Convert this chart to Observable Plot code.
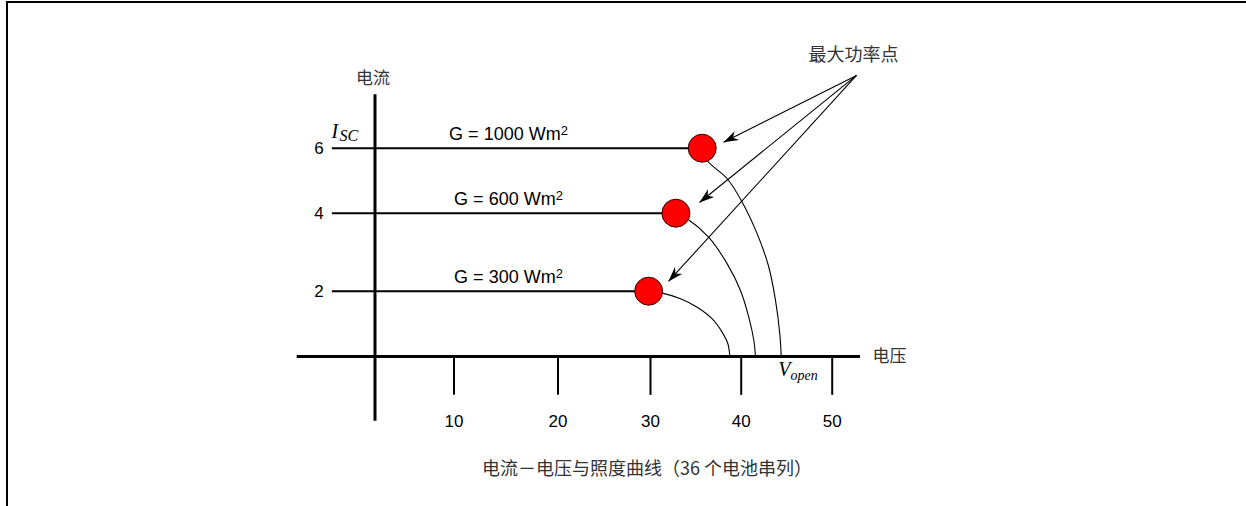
<!DOCTYPE html>
<html><head><meta charset="utf-8">
<script src="https://cdn.jsdelivr.net/npm/d3@7"></script>
<script src="https://cdn.jsdelivr.net/npm/@observablehq/plot@0.6"></script>
<style>
html,body{margin:0;padding:0;background:#fff;}
body{width:1246px;height:506px;position:relative;overflow:hidden;}
#chart{position:absolute;left:0;top:0;}
#frame{position:absolute;left:6px;top:1px;right:0;bottom:0;border-top:2px solid #000;border-left:2px solid #000;pointer-events:none;}
#caption{position:absolute;top:456px;left:647px;transform:translateX(-50%);font-family:"Noto Sans CJK SC";font-size:18px;color:#333;white-space:nowrap;line-height:22px;}
</style></head><body>
<div id="chart"></div>
<div id="frame"></div>
<div id="caption">电流－电压与照度曲线（36 个电池串列）</div>
<script>
// ---- data ----
const xTicks = [10, 20, 30, 40, 50];
const yTicks = [2, 4, 6];
const irradiance = [1000, 600, 300];
const iscCurrent = [6, 4, 2];
const mppVoltage = [35.7, 32.8, 29.8];
const seriesLabels = ["G = 1000 Wm²", "G = 600 Wm²", "G = 300 Wm²"];
const curveV1000 = [35.7, 36.25, 38.46, 40.11, 41.76, 43.03, 43.77, 44.24, 44.4];
const curveI1000 = [6, 5.62, 5.06, 4.34, 3.47, 2.62, 1.72, 0.70, 0];
const curveV600 = [32.8, 34.16, 36.43, 38.46, 39.92, 40.84, 41.39, 41.57];
const curveI600 = [4, 3.84, 3.38, 2.70, 2.02, 1.20, 0.49, 0];
const curveV300 = [29.8, 31.29, 33.31, 35.15, 36.81, 37.91, 38.53, 38.75];
const curveI300 = [2, 1.94, 1.77, 1.51, 1.15, 0.74, 0.39, 0];
const noteV = 52.67, noteI = 8.24;          // "最大功率点" arrow origin
const arrowTipV = [38.05, 35.40, 31.98];
const arrowTipI = [6.18, 4.33, 2.25];

// ---- scale configuration (hand-drawn, uneven axis) ----
const xDomain = [0, 10, 20, 30, 40, 50];
const xRange = [374.5, 453.5, 557.5, 650, 740.7, 831.7];
const yDomain = [0, 2, 4, 6];
const yRange = [356, 290.7, 212.7, 147.7];

const curveRows = [];
[[curveV1000, curveI1000], [curveV600, curveI600], [curveV300, curveI300]].forEach(([vs, is], k) => {
  vs.forEach((v, j) => curveRows.push({g: irradiance[k], v, i: is[j]}));
});

let sx, sy;
if (Plot.scale) {
  const a = Plot.scale({x: {type: "linear", domain: xDomain, range: xRange}});
  const b = Plot.scale({y: {type: "linear", domain: yDomain, range: yRange}});
  sx = v => a.apply(v); sy = v => b.apply(v);
} else {
  const a = d3.scaleLinear(xDomain, xRange), b = d3.scaleLinear(yDomain, yRange);
  sx = a; sy = b;
}
const arrowAngles = arrowTipV.map((v, k) => {
  const dx = sx(v) - sx(noteV), dy = sy(arrowTipI[k]) - sy(noteI);
  return Math.atan2(dx, -dy) * 180 / Math.PI;
});
const dart = {draw(ctx, l, r) { ctx.moveTo(0, -l); ctx.lineTo(-r, 0); ctx.lineTo(0, -l * 0.3); ctx.lineTo(r, 0); ctx.closePath(); }};

const CJK = "Noto Sans CJK SC";
const SERIF = "Liberation Serif";

const chart = Plot.plot({
  width: 1246,
  height: 440,
  marginLeft: 296.7,
  marginRight: 386,
  marginTop: 94.3,
  marginBottom: 19.3,
  style: {fontFamily: "Liberation Sans", fontSize: "17px", background: "transparent", color: "#000"},
  x: {type: "linear", domain: xDomain, range: xRange, label: null},
  y: {type: "linear", domain: yDomain, range: yRange, label: null},
  marks: [
    Plot.ruleY([0], {strokeWidth: 3}),
    Plot.ruleX([0], {strokeWidth: 3}),
    Plot.ruleX(xTicks, {x: d => d, y1: 0, y2: -1.19, strokeWidth: 2}),
    Plot.axisX(xTicks, {tickSize: 0, tickPadding: 0, dy: -6, fontSize: 17, label: null}),
    Plot.axisY(yTicks, {tickSize: 0, tickPadding: 0, dx: 26.6, fontSize: 17, label: null}),
    Plot.ruleY(iscCurrent, {y: d => d, x1: -5.4, x2: (d, i) => mppVoltage[i], strokeWidth: 2}),
    Plot.line(curveRows, {x: "v", y: "i", z: "g", curve: "catmull-rom", strokeWidth: 1.1, stroke: "#000"}),
    Plot.text(seriesLabels, {x: 15.24, y: (d, i) => iscCurrent[i], dy: -14, fontSize: 18, text: d => d, className: "glabel"}),
    Plot.link(arrowTipV, {x1: noteV, y1: noteI, x2: d => d, y2: (d, i) => arrowTipI[i], strokeWidth: 1.1, stroke: "#000"}),
    Plot.vector(arrowTipV, {x: d => d, y: (d, i) => arrowTipI[i], rotate: (d, i) => arrowAngles[i], length: 15, r: 5, anchor: "end", shape: dart, fill: "#000", stroke: "none"}),
    Plot.dot(mppVoltage, {x: d => d, y: (d, i) => iscCurrent[i], r: 14, fill: "#ff0000", stroke: "#330000", strokeWidth: 1}),
    Plot.text(["电流"], {x: 0, frameAnchor: "top", dx: -2, dy: -23, fontFamily: CJK, fontSize: 17, fill: "#333", text: d => d}),
    Plot.text(["电压"], {y: 0, frameAnchor: "right", dx: 12, textAnchor: "start", fontFamily: CJK, fontSize: 17, fill: "#333", text: d => d}),
    Plot.text(["最大功率点"], {x: noteV, y: noteI, dx: -3, dy: -20, fontFamily: CJK, fontSize: 18, fill: "#333", text: d => d}),
    Plot.text(["I"], {x: 0, y: iscCurrent[0], dx: -43.5, dy: -10.4, textAnchor: "start", lineAnchor: "bottom", fontFamily: SERIF, fontStyle: "italic", fontSize: 20, text: d => d}),
    Plot.text(["SC"], {x: 0, y: iscCurrent[0], dx: -35.5, dy: -7, textAnchor: "start", lineAnchor: "bottom", fontFamily: SERIF, fontStyle: "italic", fontSize: 16, text: d => d}),
    Plot.text(["V"], {x: curveV1000[curveV1000.length - 1], y: 0, dx: -3, dy: 19, textAnchor: "start", lineAnchor: "bottom", fontFamily: SERIF, fontStyle: "italic", fontSize: 20, text: d => d}),
    Plot.text(["open"], {x: curveV1000[curveV1000.length - 1], y: 0, dx: 9.3, dy: 23.3, textAnchor: "start", lineAnchor: "bottom", fontFamily: SERIF, fontStyle: "italic", fontSize: 14, text: d => d})
  ]
});
// render the squared unit with a real superscript tspan
chart.querySelectorAll("text").forEach(t => {
  const s = t.textContent;
  if (s.endsWith("²") && t.children.length === 0) {
    t.textContent = s.slice(0, -1);
    const sup = document.createElementNS("http://www.w3.org/2000/svg", "tspan");
    sup.setAttribute("dy", "-0.42em");
    sup.setAttribute("font-size", "0.72em");
    sup.textContent = "2";
    t.appendChild(sup);
  }
});
document.getElementById("chart").appendChild(chart);
</script>
</body></html>
